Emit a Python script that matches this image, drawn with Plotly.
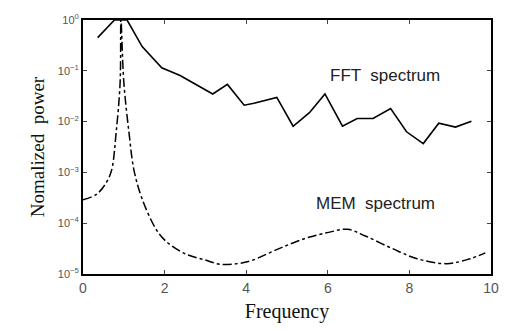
import plotly.graph_objects as go

fft_freq = [0.36, 0.77, 1.08, 1.45, 1.93, 2.38, 3.18, 3.54, 3.95, 4.19, 4.75, 5.15, 5.55, 5.93, 6.36, 6.72, 7.11, 7.54, 7.93, 8.34, 8.72, 9.13, 9.52]
fft_power = [0.45, 1.0, 1.0, 0.30, 0.115, 0.081, 0.035, 0.054, 0.021, 0.023, 0.030, 0.0081, 0.015, 0.035, 0.0081, 0.0115, 0.0115, 0.018, 0.0063, 0.0037, 0.0093, 0.0078, 0.0102]

mem_freq = [0.0, 0.33, 0.57, 0.70, 0.81, 0.91, 0.93, 1.0, 1.13, 1.25, 1.45, 1.78, 2.02, 2.5, 2.98, 3.37, 3.78, 4.1, 4.82, 5.47, 6.02, 6.48, 6.92, 7.57, 8.19, 8.92, 9.49, 9.86]
mem_power = [2.9e-4, 3.7e-4, 6.3e-4, 1.1e-3, 5.8e-3, 6.0e-2, 1.0, 6.0e-2, 5.8e-3, 1.1e-3, 3.0e-4, 7.9e-5, 4.5e-5, 2.5e-5, 1.9e-5, 1.55e-5, 1.6e-5, 1.8e-5, 3.2e-5, 5.1e-5, 6.6e-5, 7.6e-5, 5.6e-5, 3.2e-5, 2.0e-5, 1.6e-5, 2.0e-5, 2.6e-5]

x_ticks = [0, 2, 4, 6, 8, 10]
y_ticks = [1, 1e-1, 1e-2, 1e-3, 1e-4, 1e-5]
y_ticktext = ["10<sup>0</sup>", "10<sup>−1</sup>", "10<sup>−2</sup>", "10<sup>−3</sup>", "10<sup>−4</sup>", "10<sup>−5</sup>"]

fig = go.Figure()
fig.add_trace(go.Scatter(x=fft_freq, y=fft_power, mode="lines",
                         line=dict(color="black", width=1.6), showlegend=False))
fig.add_trace(go.Scatter(x=mem_freq, y=mem_power, mode="lines", line_shape="spline",
                         line=dict(color="black", width=1.5, dash="dashdot"), showlegend=False))

fig.add_annotation(x=7.4, y=-1.09, text="FFT  spectrum", showarrow=False,
                   font=dict(family="Liberation Sans", size=17, color="#222"))
fig.add_annotation(x=7.16, y=-3.62, text="MEM  spectrum", showarrow=False,
                   font=dict(family="Liberation Sans", size=17, color="#222"))

fig.update_layout(
    width=511, height=331,
    margin=dict(l=83, r=15, t=13, b=57),
    plot_bgcolor="white", paper_bgcolor="white",
    xaxis=dict(range=[0, 10], tickvals=x_ticks, ticks="inside", ticklen=4,
               showline=True, linecolor="black", linewidth=2, mirror="ticks",
               showgrid=False, zeroline=False,
               tickfont=dict(family="Liberation Sans", size=14, color="#555"),
               title=dict(text="Frequency", font=dict(family="Liberation Serif", size=20, color="#111"), standoff=9)),
    yaxis=dict(type="log", range=[-5, 0], tickvals=y_ticks, ticktext=y_ticktext,
               ticks="inside", ticklen=4,
               showline=True, linecolor="black", linewidth=2, mirror="ticks",
               showgrid=False, zeroline=False,
               tickfont=dict(family="Liberation Sans", size=11, color="#555"),
               title=dict(text="Nomalized  power", font=dict(family="Liberation Serif", size=19, color="#111"), standoff=8)),
)

fig.write_html("out.html")
